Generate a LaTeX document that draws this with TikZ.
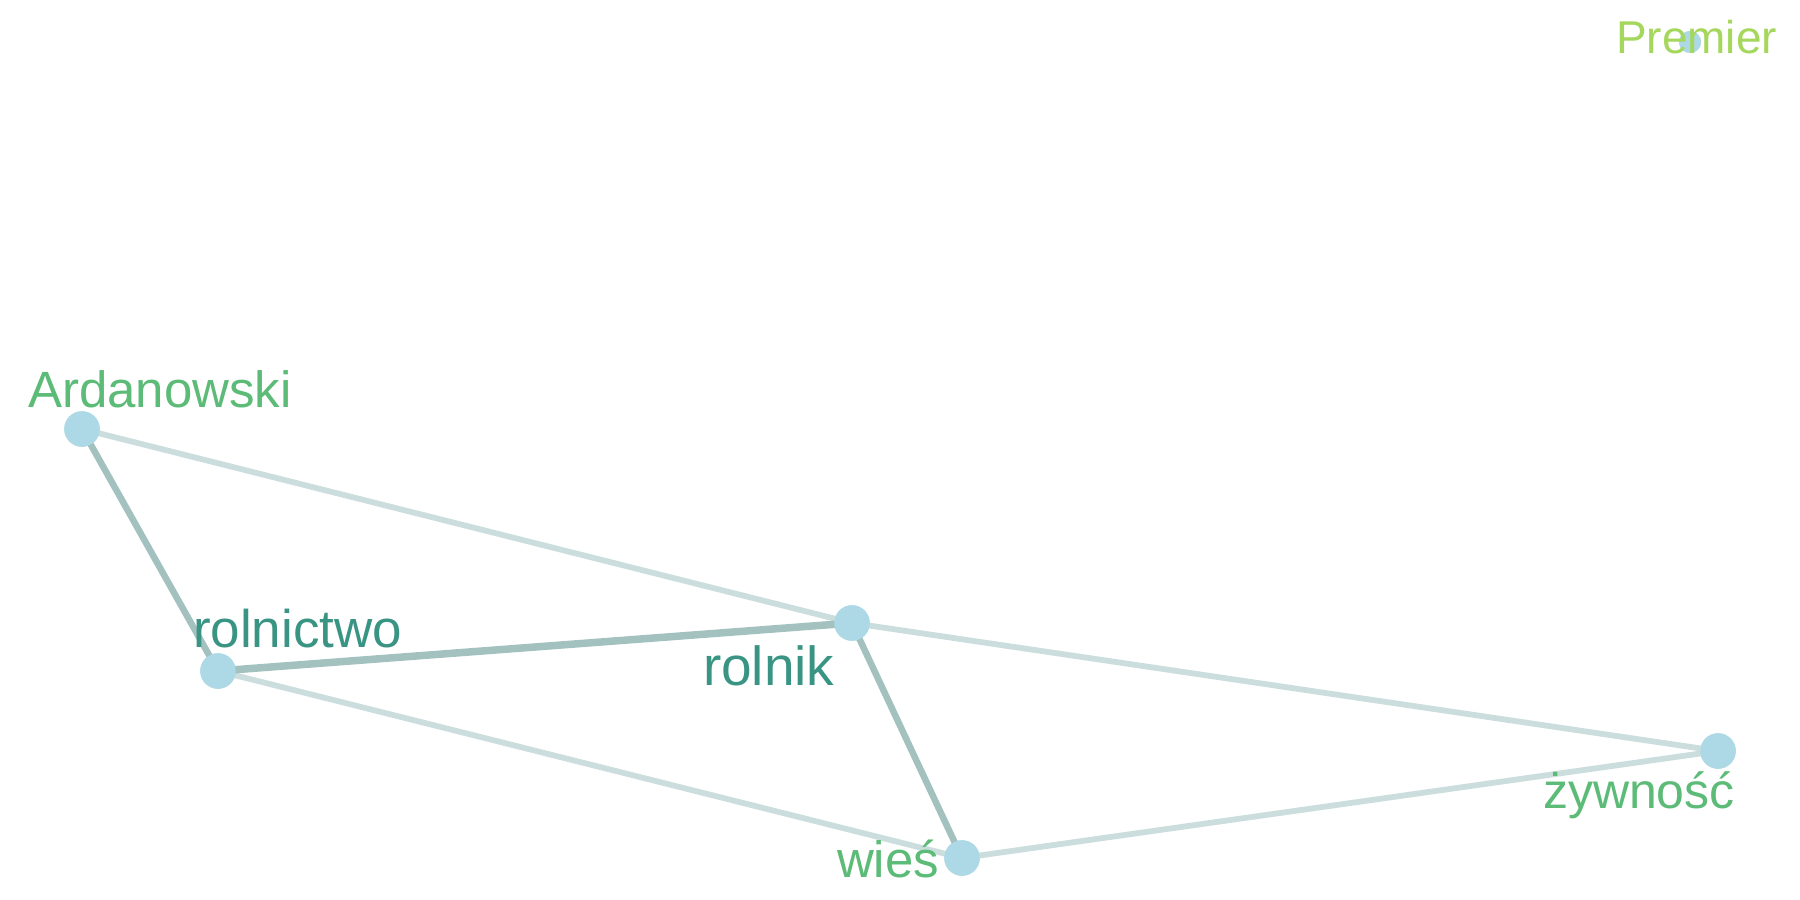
\documentclass[tikz,border=0pt]{standalone}
\usepackage{fontspec}
\setmainfont{Liberation Sans}
\definecolor{nodeblue}{HTML}{ADD8E6}
\definecolor{edgeheavy}{HTML}{A3C1BF}
\definecolor{edgelight}{HTML}{CBDEDD}
\definecolor{labteal}{HTML}{3A9484}
\definecolor{labgreen}{HTML}{5BBB77}
\definecolor{lablime}{HTML}{A5D75C}
\tikzset{
  vert/.style={circle, fill=nodeblue, draw=none, inner sep=0pt, minimum size=35.5pt},
  smallvert/.style={circle, fill=nodeblue, draw=none, inner sep=0pt, minimum size=22pt},
  heavyedge/.style={draw=edgeheavy, line width=7.5pt},
  midedge/.style={draw=edgeheavy, line width=6.5pt},
  lightedge/.style={draw=edgelight, line width=5.8pt},
  lab/.style={anchor=base west, inner sep=0pt, outer sep=0pt}
}
\begin{document}
\begin{tikzpicture}[x=1pt, y=-1pt]
\useasboundingbox (0,0) rectangle (1800,900);
% vertices (positions)
\node[vert] (ard) at (82,429) {};
\node[vert] (rct) at (218,671) {};
\node[vert] (rlk) at (852,623) {};
\node[vert] (wie) at (962,858) {};
\node[vert] (zyw) at (1718,751) {};
\node[smallvert] (pre) at (1690,42) {};
% edges
\path[lightedge] (ard.center) -- (rlk.center);
\path[lightedge] (rlk.center) -- (zyw.center);
\path[lightedge] (rct.center) -- (wie.center);
\path[lightedge] (wie.center) -- (zyw.center);
\path[midedge] (ard.center) -- (rct.center);
\path[midedge] (rlk.center) -- (wie.center);
\path[heavyedge] (rct.center) -- (rlk.center);
% vertices drawn again on top of the edges
\node[vert] at (ard.center) {};
\node[vert] at (rct.center) {};
\node[vert] at (rlk.center) {};
\node[vert] at (wie.center) {};
\node[vert] at (zyw.center) {};
\node[smallvert] at (pre.center) {};
% labels
\node[lab, text=labgreen, font=\fontsize{51}{60}\selectfont] (lard) at (28,407) {Ardanowski};
\node[lab, text=labteal, font=\fontsize{53}{62}\selectfont] (lrct) at (193,647) {rolnictwo};
\node[lab, text=labteal, font=\fontsize{55}{64}\selectfont] (lrlk) at (703,685) {rolnik};
\node[lab, text=labgreen, font=\fontsize{51}{60}\selectfont] (lwie) at (837,877) {wieś};
\node[lab, text=labgreen, font=\fontsize{50}{60}\selectfont] (lzyw) at (1543,808) {żywność};
\node[lab, text=lablime, font=\fontsize{46}{55}\selectfont] (lpre) at (1616,53) {Premier};
\end{tikzpicture}
\end{document}
